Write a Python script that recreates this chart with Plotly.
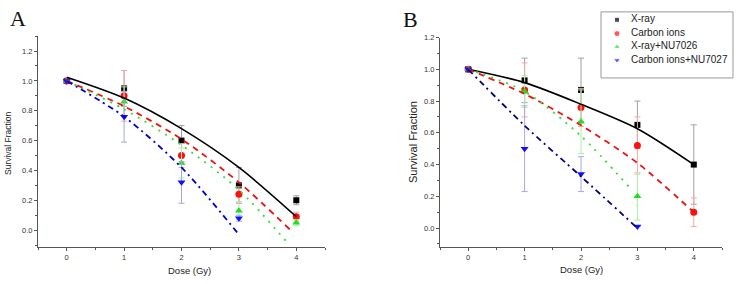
import plotly.graph_objects as go

W, H = 740, 284

# ---------------- data ----------------
doses = [0, 1, 2, 3, 4]
doses3 = [0, 1, 2, 3]
series_names = ["X-ray", "Carbon ions", "X-ray+NU7026", "Carbon ions+NU7027"]

# Panel A measured points
xray_A = [1.0, 0.95, 0.60, 0.30, 0.20]
xray_A_err = [0, 0.12, 0.10, 0.12, 0.03]
carbon_A = [1.0, 0.90, 0.50, 0.24, 0.09]
carbon_A_err = [0, 0.17, 0.08, 0.05, 0.03]
xnu_A = [1.0, 0.86, 0.45, 0.13, 0.05]
xnu_A_err = [0, 0.10, 0.10, 0.06, 0.02]
cnu_A = [1.0, 0.76, 0.32, 0.08]
cnu_A_err = [0, 0.17, 0.14, 0.02]

# Panel A fitted curves
fit_xray_A_x = [0, 1, 2, 3, 4]
fit_xray_A_y = [1.025, 0.885, 0.68, 0.42, 0.09]
fit_carbon_A_x = [0, 1, 2, 3, 3.9]
fit_carbon_A_y = [1.0, 0.83, 0.61, 0.32, 0.0]
fit_xnu_A_x = [0, 1, 2, 3, 3.88]
fit_xnu_A_y = [1.0, 0.81, 0.57, 0.27, -0.10]
fit_cnu_A_x = [0, 1, 2, 3]
fit_cnu_A_y = [1.0, 0.76, 0.42, -0.03]

# Panel B measured points
xray_B = [1.0, 0.93, 0.87, 0.65, 0.40]
xray_B_err = [0, 0.14, 0.20, 0.15, 0.25]
carbon_B = [1.0, 0.87, 0.76, 0.52, 0.10]
carbon_B_err = [0, 0.17, 0.12, 0.18, 0.09]
xnu_B = [1.0, 0.86, 0.67, 0.20]
xnu_B_err = [0, 0.10, 0.20, 0.15]
cnu_B = [1.0, 0.50, 0.34, 0.01]
cnu_B_err = [0, 0.27, 0.11, 0.0]

# Panel B fitted curves
fit_xray_B_x = [0, 1, 2, 3, 4]
fit_xray_B_y = [1.0, 0.916, 0.78, 0.626, 0.40]
fit_carbon_B_x = [0, 1, 2, 3, 4]
fit_carbon_B_y = [1.0, 0.845, 0.647, 0.41, 0.10]
fit_xnu_B_x = [0, 1, 2, 2.85]
fit_xnu_B_y = [1.0, 0.86, 0.58, 0.26]
fit_cnu_B_x = [0, 1, 2, 3]
fit_cnu_B_y = [1.0, 0.645, 0.325, 0.0]

y_ticks = [0.0, 0.2, 0.4, 0.6, 0.8, 1.0, 1.2]
x_ticks = [0, 1, 2, 3, 4]

# ---------------- styles ----------------
mk_col = ["#000000", "#ff1010", "#22dd22", "#1010ff"]
err_col = ["#a0a0a0", "#f5a8a8", "#a8f0a8", "#a8a8e0"]
symbols = ["square", "circle", "triangle-up", "triangle-down"]
msize = [6, 7, 7, 7]
line_style = [
    dict(color="#000000", width=1.6, dash="solid"),
    dict(color="#ee1111", width=1.8, dash="6px,5px"),
    dict(color="#33dd33", width=1.8, dash="2px,6px"),
    dict(color="#0000cc", width=1.8, dash="6px,4px,2px,4px"),
]
line_style_B_blue = dict(color="#000080", width=1.8, dash="6px,4px,2px,4px")

fig = go.Figure()


def add_panel(xa, ya, pts, fits, blue_line):
    for i, (xs, ys, es) in enumerate(pts):
        fig.add_trace(go.Scatter(
            x=xs, y=ys, mode="markers", xaxis=xa, yaxis=ya, showlegend=False,
            marker=dict(symbol=symbols[i], size=msize[i], color=mk_col[i]),
            error_y=dict(type="data", array=es, color=err_col[i], thickness=1, width=3),
            cliponaxis=False,
        ))
    for i, (fx, fy) in enumerate(fits):
        ls = line_style[i] if i < 3 else blue_line
        fig.add_trace(go.Scatter(
            x=fx, y=fy, mode="lines", xaxis=xa, yaxis=ya, showlegend=False,
            line=dict(shape="spline", smoothing=0.8, **ls),
        ))


add_panel("x", "y",
          [(doses, xray_A, xray_A_err), (doses, carbon_A, carbon_A_err),
           (doses, xnu_A, xnu_A_err), (doses3, cnu_A, cnu_A_err)],
          [(fit_xray_A_x, fit_xray_A_y), (fit_carbon_A_x, fit_carbon_A_y),
           (fit_xnu_A_x, fit_xnu_A_y), (fit_cnu_A_x, fit_cnu_A_y)],
          line_style[3])
add_panel("x2", "y2",
          [(doses, xray_B, xray_B_err), (doses, carbon_B, carbon_B_err),
           (doses3, xnu_B, xnu_B_err), (doses3, cnu_B, cnu_B_err)],
          [(fit_xray_B_x, fit_xray_B_y), (fit_carbon_B_x, fit_carbon_B_y),
           (fit_xnu_B_x, fit_xnu_B_y), (fit_cnu_B_x, fit_cnu_B_y)],
          line_style_B_blue)

# legend drawn on a separate pixel-unit axis
leg_y = [16, 30, 43.5, 57]
fig.add_trace(go.Scatter(
    x=[617] * 4, y=leg_y, mode="markers", xaxis="x3", yaxis="y3", showlegend=False,
    marker=dict(symbol=symbols, size=[5, 6, 6, 6], color=mk_col),
))
fig.add_trace(go.Scatter(
    x=[631] * 4, y=leg_y, mode="text", text=series_names, textposition="middle right",
    xaxis="x3", yaxis="y3", showlegend=False,
    textfont=dict(family="Liberation Sans, Arial", size=10, color="#222"),
))


def px_x(p):
    return p / W


def px_y(p):
    return 1 - p / H


tickfont = dict(family="Liberation Sans, Arial", size=7.5, color="#333")
axis_common = dict(showline=True, linecolor="#555", linewidth=1, ticks="outside",
                   ticklen=3, tickcolor="#555", tickwidth=1, showgrid=False,
                   zeroline=False, tickfont=tickfont)
minor_x = dict(dtick=0.5, tick0=0, ticklen=2, ticks="outside", tickcolor="#555", showgrid=False)
minor_y = dict(dtick=0.1, tick0=0, ticklen=2, ticks="outside", tickcolor="#555", showgrid=False)

fig.update_layout(
    width=W, height=H, autosize=False,
    margin=dict(l=0, r=0, t=0, b=0),
    paper_bgcolor="white", plot_bgcolor="rgba(0,0,0,0)",
    xaxis=dict(domain=[px_x(38), px_x(325)], range=[-0.5, 4.5], tickvals=x_ticks,
               anchor="y", minor=minor_x, **axis_common),
    yaxis=dict(domain=[px_y(246), px_y(32)], range=[-0.11, 1.304], tickvals=y_ticks,
               tickformat=".1f", anchor="x", minor=minor_y, **axis_common),
    xaxis2=dict(domain=[px_x(440), px_x(722)], range=[-0.5, 4.5], tickvals=x_ticks,
                anchor="y2", minor=minor_x, **axis_common),
    yaxis2=dict(domain=[px_y(246), px_y(34)], range=[-0.116, 1.2], tickvals=y_ticks,
                tickformat=".1f", anchor="x2", minor=minor_y, **axis_common),
    xaxis3=dict(domain=[0, 1], range=[0, W], visible=False, anchor="y3", fixedrange=True),
    yaxis3=dict(domain=[0, 1], range=[H, 0], visible=False, anchor="x3", fixedrange=True),
    showlegend=False,
    shapes=[dict(type="rect", xref="paper", yref="paper",
                 x0=px_x(601), x1=px_x(733), y0=px_y(75), y1=px_y(8),
                 line=dict(color="#999", width=1), fillcolor="white", layer="below")],
)

ann = []
ann.append(dict(text="A", x=px_x(18), y=px_y(15), font=dict(family="Liberation Serif, Times New Roman", size=22, color="#111")))
ann.append(dict(text="B", x=px_x(410), y=px_y(16), font=dict(family="Liberation Serif, Times New Roman", size=22, color="#111")))
ann.append(dict(text="Survival Fraction", x=px_x(8), y=px_y(141), textangle=-90,
                font=dict(family="Liberation Sans, Arial", size=8.5, color="#222")))
ann.append(dict(text="Survival Fraction", x=px_x(413), y=px_y(140), textangle=-90,
                font=dict(family="Liberation Sans, Arial", size=11, color="#222")))
ann.append(dict(text="Dose (Gy)", x=px_x(189), y=px_y(270),
                font=dict(family="Liberation Sans, Arial", size=9.5, color="#222")))
ann.append(dict(text="Dose (Gy)", x=px_x(581), y=px_y(269),
                font=dict(family="Liberation Sans, Arial", size=9.5, color="#222")))
for a in ann:
    a.update(xref="paper", yref="paper", showarrow=False, xanchor="center", yanchor="middle")
fig.update_layout(annotations=ann)

fig.write_html("out.html", config={"displayModeBar": False},
               post_script="document.body.style.margin='0';")
